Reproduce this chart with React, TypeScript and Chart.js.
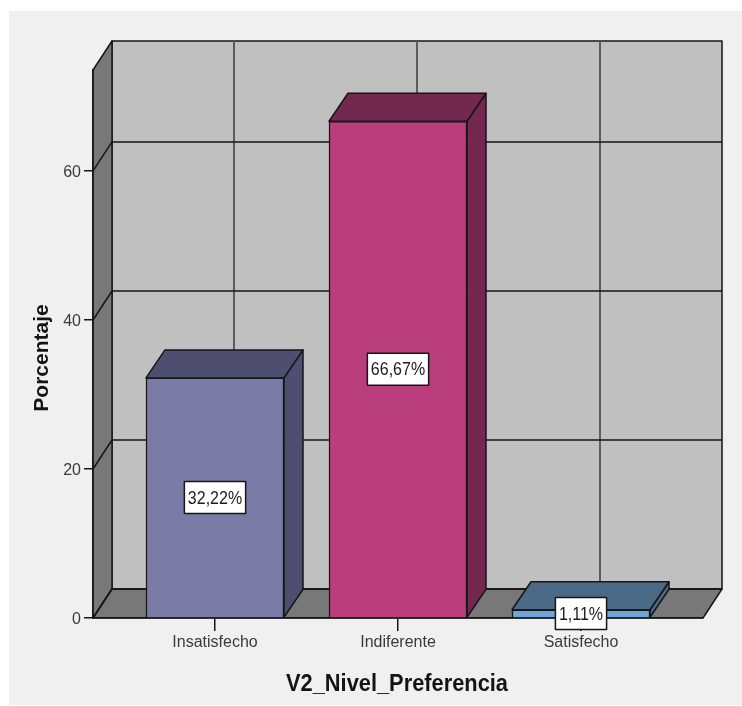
import React, { useEffect, useRef } from "react";
import { Chart, registerables } from "chart.js";

Chart.register(...registerables);

const categories = ["Insatisfecho", "Indiferente", "Satisfecho"];
const percentages = [32.22, 66.67, 1.11];
const yTicks = [0, 20, 40, 60];
const frontColors = ["#7b7ba8", "#bb3e7c", "#70a5da"];
const shadeColors = ["#4e4e70", "#72284f", "#4a6a87"];
const xAxisTitle = "V2_Nivel_Preferencia";
const yAxisTitle = "Porcentaje";

const DEPTH_X = 19;
const DEPTH_Y = 29;
const BAR_DEPTH_Y = 28;
const INK = "#161616";
const SANS = '"Liberation Sans", Arial, sans-serif';

function poly(ctx: CanvasRenderingContext2D, pts: number[][], fill: string, stroke = INK, lw = 1.5) {
  ctx.beginPath();
  pts.forEach(([x, y], i) => (i ? ctx.lineTo(x, y) : ctx.moveTo(x, y)));
  ctx.closePath();
  ctx.fillStyle = fill;
  ctx.fill();
  ctx.strokeStyle = stroke;
  ctx.lineWidth = lw;
  ctx.lineJoin = "round";
  ctx.stroke();
}

function segment(ctx: CanvasRenderingContext2D, x1: number, y1: number, x2: number, y2: number, color: string, lw: number) {
  ctx.beginPath();
  ctx.moveTo(x1, y1);
  ctx.lineTo(x2, y2);
  ctx.strokeStyle = color;
  ctx.lineWidth = lw;
  ctx.stroke();
}

// Back wall, side wall, floor and their grid, drawn behind the axes.
const roomPlugin = {
  id: "room",
  beforeDraw(chart: any) {
    const { ctx, chartArea: a, scales } = chart;
    const { left: l, right: r, top: t, bottom: b } = a;
    ctx.save();
    poly(ctx, [[l + DEPTH_X, t - DEPTH_Y], [r + DEPTH_X, t - DEPTH_Y], [r + DEPTH_X, b - DEPTH_Y], [l + DEPTH_X, b - DEPTH_Y]], "#c0c0c0");
    poly(ctx, [[l, t], [l + DEPTH_X, t - DEPTH_Y], [l + DEPTH_X, b - DEPTH_Y], [l, b]], "#787878");
    poly(ctx, [[l, b], [r, b], [r + DEPTH_X, b - DEPTH_Y], [l + DEPTH_X, b - DEPTH_Y]], "#787878");
    categories.forEach((_, i) => {
      const x = scales.x.getPixelForValue(i) + DEPTH_X;
      segment(ctx, x, t - DEPTH_Y, x, b - DEPTH_Y, "#5c5c5c", 2);
    });
    yTicks.forEach((v) => {
      const y = scales.y.getPixelForValue(v);
      segment(ctx, l, y, l + DEPTH_X, y - DEPTH_Y, INK, 1.5);
      segment(ctx, l + DEPTH_X, y - DEPTH_Y, r + DEPTH_X, y - DEPTH_Y, INK, 1.5);
    });
    ctx.restore();
  },
};

// Extrudes each bar and places its value box.
const barExtrusionPlugin = {
  id: "barExtrusion",
  afterDatasetsDraw(chart: any) {
    const { ctx } = chart;
    const bars = chart.getDatasetMeta(0).data;
    ctx.save();
    bars.forEach((bar: any, i: number) => {
      const { x, y, base, width } = bar.getProps(["x", "y", "base", "width"], true);
      const x0 = x - width / 2;
      const x1 = x + width / 2;
      poly(ctx, [[x1, y], [x1 + DEPTH_X, y - BAR_DEPTH_Y], [x1 + DEPTH_X, base - BAR_DEPTH_Y], [x1, base]], shadeColors[i]);
      poly(ctx, [[x0, y], [x1, y], [x1 + DEPTH_X, y - BAR_DEPTH_Y], [x0 + DEPTH_X, y - BAR_DEPTH_Y]], shadeColors[i]);
    });
    bars.forEach((bar: any, i: number) => {
      const { x, y, base } = bar.getProps(["x", "y", "base"], true);
      const cy = (y + base) / 2;
      const text = percentages[i].toFixed(2).replace(".", ",") + "%";
      // Tall, narrow lettering: measure at a small size, draw larger and squeeze.
      ctx.font = `16px ${SANS}`;
      const tw = ctx.measureText(text).width;
      const bw = tw + 7;
      ctx.fillStyle = "#ffffff";
      ctx.strokeStyle = INK;
      ctx.lineWidth = 1.5;
      ctx.fillRect(x - bw / 2, cy - 16, bw, 32);
      ctx.strokeRect(x - bw / 2, cy - 16, bw, 32);
      ctx.fillStyle = "#1c1c1c";
      ctx.font = `19px ${SANS}`;
      ctx.textAlign = "center";
      ctx.textBaseline = "middle";
      ctx.fillText(text, x, cy + 1, tw);
    });
    ctx.restore();
  },
};

// Axis titles, sized to the space each one occupies beside the plot.
const axisTitlePlugin = {
  id: "axisTitles",
  afterDraw(chart: any) {
    const { ctx } = chart;
    ctx.save();
    ctx.fillStyle = "#141414";
    ctx.textAlign = "center";
    ctx.textBaseline = "alphabetic";
    ctx.font = `bold 24px ${SANS}`;
    ctx.fillText(xAxisTitle, 397, 691, 222);
    ctx.translate(48, 358);
    ctx.rotate(-Math.PI / 2);
    ctx.font = `bold 21px ${SANS}`;
    ctx.fillText(yAxisTitle, 0, 0, 108);
    ctx.restore();
  },
};

export default function App() {
  const canvasRef = useRef<HTMLCanvasElement | null>(null);

  useEffect(() => {
    const chart = new Chart(canvasRef.current as HTMLCanvasElement, {
      type: "bar",
      data: {
        datasets: [
          {
            data: percentages.map((y, x) => ({ x, y })),
            backgroundColor: frontColors,
            borderColor: INK,
            borderWidth: 1.5,
            barThickness: 138,
          },
        ],
      },
      options: {
        animation: false,
        responsive: false,
        layout: { padding: { left: 0, top: 70, right: 39, bottom: 0 } },
        plugins: { legend: { display: false }, tooltip: { enabled: false } },
        scales: {
          x: {
            type: "linear",
            min: -2 / 3,
            max: 8 / 3,
            offset: false,
            afterBuildTicks: (s: any) => {
              s.ticks = categories.map((_, i) => ({ value: i }));
            },
            afterFit: (s: any) => {
              s.height = 88;
            },
            ticks: {
              callback: (v: any) => categories[v],
              color: "#3a3a3a",
              font: { family: SANS, size: 16 },
              padding: 2,
              maxRotation: 0,
              autoSkip: false,
            },
            grid: { drawOnChartArea: false, offset: false, color: INK, lineWidth: 1.5, tickLength: 13 },
            border: { color: INK, width: 1.5 },
          },
          y: {
            min: 0,
            max: 73.55,
            afterFit: (s: any) => {
              s.width = 93;
            },
            ticks: {
              stepSize: 20,
              includeBounds: false,
              color: "#3a3a3a",
              font: { family: SANS, size: 16 },
              padding: 3,
              labelOffset: 2,
            },
            grid: { drawOnChartArea: false, color: INK, lineWidth: 1.5, tickLength: 9 },
            border: { color: INK, width: 1.5 },
          },
        },
      },
      plugins: [roomPlugin, barExtrusionPlugin, axisTitlePlugin],
    } as any);
    return () => chart.destroy();
  }, []);

  return (
    <div style={{ position: "fixed", left: 0, top: 0, width: 742, height: 706, background: "#ffffff", overflow: "hidden" }}>
      <div style={{ position: "absolute", left: 9, top: 11, right: 0, height: 694, background: "#f0f0f0" }} />
      <canvas ref={canvasRef} width={742} height={706} style={{ position: "absolute", left: 0, top: 0 }} />
    </div>
  );
}
